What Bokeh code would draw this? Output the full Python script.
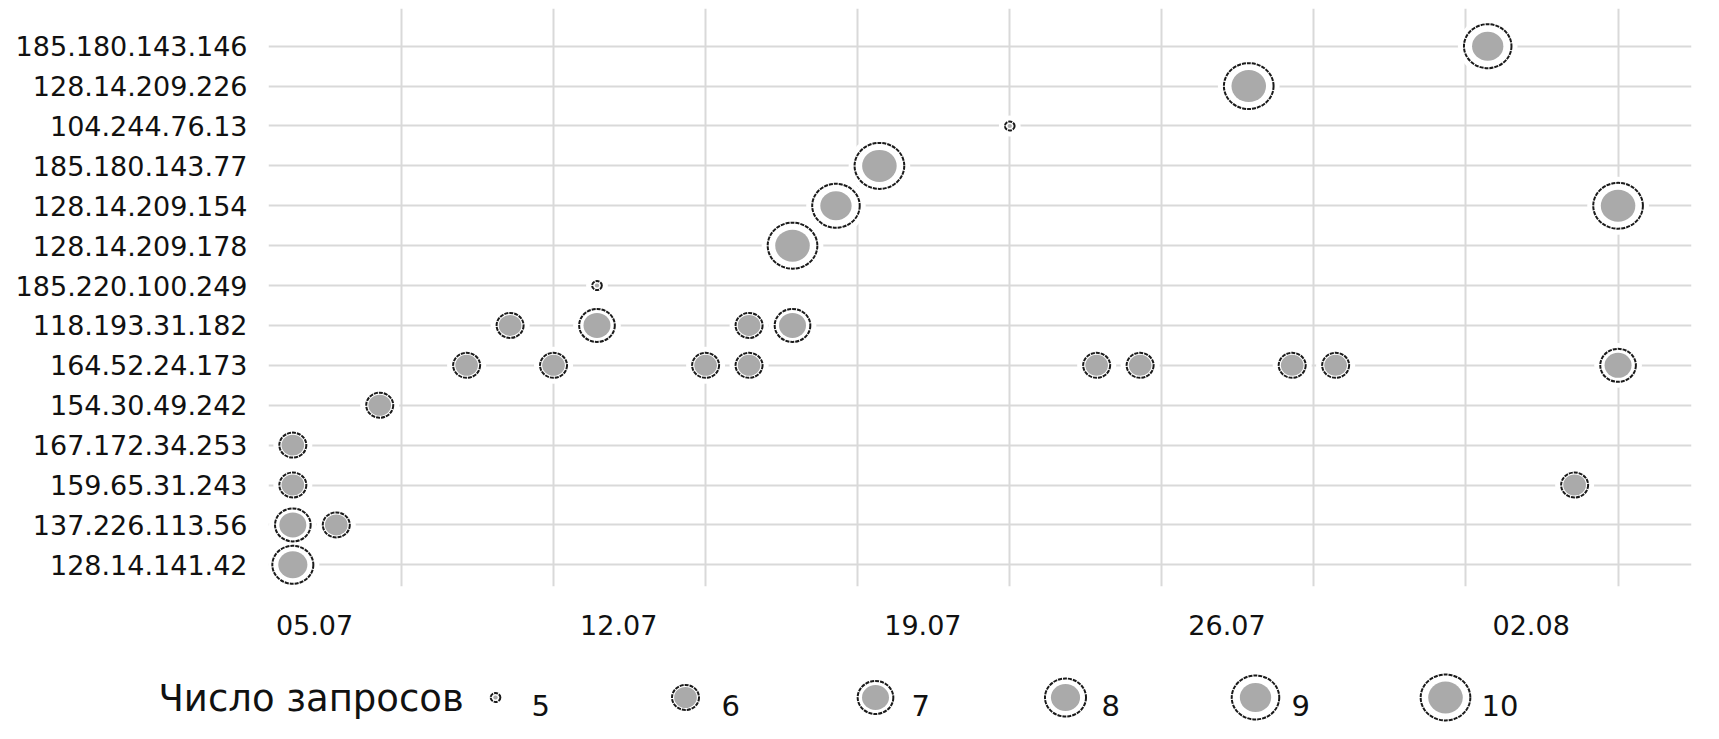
import pandas as pd
from bokeh.plotting import figure
from bokeh.models import Range1d, FixedTicker, DatetimeTickFormatter, ColumnDataSource
from bokeh.layouts import column
from bokeh.embed import file_html
from bokeh.resources import INLINE
from bokeh.core.properties import value

# ---------------- data ----------------
YEAR = 2023
ips = ["185.180.143.146", "128.14.209.226", "104.244.76.13", "185.180.143.77",
       "128.14.209.154", "128.14.209.178", "185.220.100.249", "118.193.31.182",
       "164.52.24.173", "154.30.49.242", "167.172.34.253", "159.65.31.243",
       "137.226.113.56", "128.14.141.42"]

point_ip = ["185.180.143.146", "128.14.209.226", "104.244.76.13", "185.180.143.77",
            "128.14.209.154", "128.14.209.154", "128.14.209.178", "185.220.100.249",
            "118.193.31.182", "118.193.31.182", "118.193.31.182", "118.193.31.182",
            "164.52.24.173", "164.52.24.173", "164.52.24.173", "164.52.24.173",
            "164.52.24.173", "164.52.24.173", "164.52.24.173", "164.52.24.173",
            "164.52.24.173", "154.30.49.242", "167.172.34.253", "159.65.31.243",
            "159.65.31.243", "137.226.113.56", "137.226.113.56", "128.14.141.42"]
point_time = ["2023-08-01 00:00", "2023-07-26 12:00", "2023-07-21 00:00", "2023-07-18 00:00",
              "2023-07-17 00:00", "2023-08-04 00:00", "2023-07-16 00:00", "2023-07-11 12:00",
              "2023-07-09 12:00", "2023-07-11 12:00", "2023-07-15 00:00", "2023-07-16 00:00",
              "2023-07-08 12:00", "2023-07-10 12:00", "2023-07-14 00:00", "2023-07-15 00:00",
              "2023-07-23 00:00", "2023-07-24 00:00", "2023-07-27 12:00", "2023-07-28 12:00",
              "2023-08-04 00:00", "2023-07-06 12:00", "2023-07-04 12:00", "2023-07-04 12:00",
              "2023-08-03 00:00", "2023-07-04 12:00", "2023-07-05 12:00", "2023-07-04 12:00"]
point_count = [9, 10, 5, 10,
               9, 10, 10, 5,
               6, 7, 6, 7,
               6, 6, 6, 6,
               6, 6, 6, 6,
               7, 6, 6, 6,
               6, 7, 6, 8]

x_tick_labels = ["05.07", "12.07", "19.07", "26.07", "02.08"]
legend_title = "Число запросов"
legend_counts = [5, 6, 7, 8, 9, 10]

# ---------------- style ----------------
FONT = "DejaVu Sans"
TEXT_COLOR = "#111111"
GRID_COLOR = "#d9d9d9"
GRAY = "#aaaaaa"
RING = "#1a1a1a"
OUTER_H = {5: 9, 6: 25, 7: 33, 8: 38, 9: 44, 10: 46}
INNER_H = {5: 4, 6: 21, 7: 25, 8: 27, 9: 29, 10: 32}
STRETCH = 1.08
HALO = 12
DAY = 86400000.0

W = 1711
BORDER_L, BORDER_R = 268, 20


def ms(ts):
    return ts.value / 1e6


def label_ts(lbl):
    d, m = lbl.split(".")
    return pd.Timestamp(year=YEAR, month=int(m), day=int(d))


tick_ts = [label_ts(t) for t in x_tick_labels]
t0 = ms(tick_ts[0])
tick_ms = [ms(t) for t in tick_ts]
grid_ms = [t0 + (2 + 3.5 * k) * DAY for k in range(9)]

n = len(ips)
row_of = {ip: n - 1 - i for i, ip in enumerate(ips)}

src = ColumnDataSource(dict(
    x=pd.to_datetime(point_time),
    y=[row_of[ip] for ip in point_ip],
    ow=[OUTER_H[c] * STRETCH for c in point_count],
    oh=[OUTER_H[c] for c in point_count],
    iw=[INNER_H[c] * STRETCH for c in point_count],
    ih=[INNER_H[c] for c in point_count],
    hw=[OUTER_H[c] * STRETCH + HALO for c in point_count],
    hh=[OUTER_H[c] + HALO for c in point_count],
))

p = figure(width=W, height=658, x_axis_type="datetime",
           output_backend="svg", toolbar_location=None,
           x_range=Range1d(start=t0 - 1.06 * DAY, end=t0 + 31.69 * DAY),
           y_range=Range1d(start=-0.544, end=13.945),
           min_border_left=BORDER_L, min_border_right=BORDER_R,
           min_border_top=8, min_border_bottom=72,
           outline_line_color=None)
p.frame_align = False

p.xaxis.ticker = FixedTicker(ticks=tick_ms)
fmt = "%d.%m"
p.xaxis.formatter = DatetimeTickFormatter(
    microseconds=fmt, milliseconds=fmt, seconds=fmt, minsec=fmt, minutes=fmt,
    hourmin=fmt, hours=fmt, days=fmt, months=fmt, years=fmt)
p.yaxis.ticker = FixedTicker(ticks=list(range(n)))
p.yaxis.major_label_overrides = {row_of[ip]: ip for ip in ips}

for ax in (p.xaxis, p.yaxis):
    ax.axis_line_color = None
    ax.major_tick_line_color = None
    ax.minor_tick_line_color = None
    ax.major_label_text_font = FONT
    ax.major_label_text_font_size = "27px"
    ax.major_label_text_color = TEXT_COLOR
p.xaxis.major_label_standoff = 22
p.yaxis.major_label_standoff = 15

p.xgrid.ticker = FixedTicker(ticks=grid_ms)
p.xgrid.grid_line_color = GRID_COLOR
p.xgrid.grid_line_width = 2
p.ygrid.grid_line_color = GRID_COLOR
p.ygrid.grid_line_width = 2

p.ellipse(x="x", y="y", width="hw", height="hh", width_units="screen", height_units="screen",
          source=src, fill_color="white", line_color=None)
p.ellipse(x="x", y="y", width="ow", height="oh", width_units="screen", height_units="screen",
          source=src, fill_color="white", line_color=RING, line_width=2, line_dash="4 1")
p.ellipse(x="x", y="y", width="iw", height="ih", width_units="screen", height_units="screen",
          source=src, fill_color=GRAY, line_color=None)

# ---------------- legend (separate strip below, x/y in strip pixels) ----------------
LH = 73
lf = figure(width=W, height=LH, output_backend="svg", toolbar_location=None,
            x_range=Range1d(0, W), y_range=Range1d(LH, 0),
            x_axis_location=None, y_axis_location=None,
            min_border_left=0, min_border_right=0,
            min_border_top=0, min_border_bottom=0, outline_line_color=None)
lf.frame_align = False
lf.grid.visible = False

lx = [495 + 190 * i for i in range(len(legend_counts))]
lsrc = ColumnDataSource(dict(
    x=lx, y=[39] * len(legend_counts),
    ow=[OUTER_H[c] * STRETCH for c in legend_counts],
    oh=[OUTER_H[c] for c in legend_counts],
    iw=[INNER_H[c] * STRETCH for c in legend_counts],
    ih=[INNER_H[c] for c in legend_counts],
))
lf.ellipse(x="x", y="y", width="ow", height="oh", width_units="screen", height_units="screen",
           source=lsrc, fill_color="white", line_color=RING, line_width=2, line_dash="4 1")
lf.ellipse(x="x", y="y", width="iw", height="ih", width_units="screen", height_units="screen",
           source=lsrc, fill_color=GRAY, line_color=None)
lf.text(x=[x + 36 for x in lx], y=[47] * len(legend_counts),
        text=[str(c) for c in legend_counts],
        text_font=value(FONT), text_font_size=value("29px"),
        text_color=TEXT_COLOR, text_baseline="alphabetic", text_align="left")
lf.text(x=[158], y=[40], text=[legend_title],
        text_font=value(FONT), text_font_size=value("37px"),
        text_color=TEXT_COLOR, text_baseline="alphabetic", text_align="left")

layout = column(p, lf)
open("out.html", "w").write(file_html(layout, INLINE))
